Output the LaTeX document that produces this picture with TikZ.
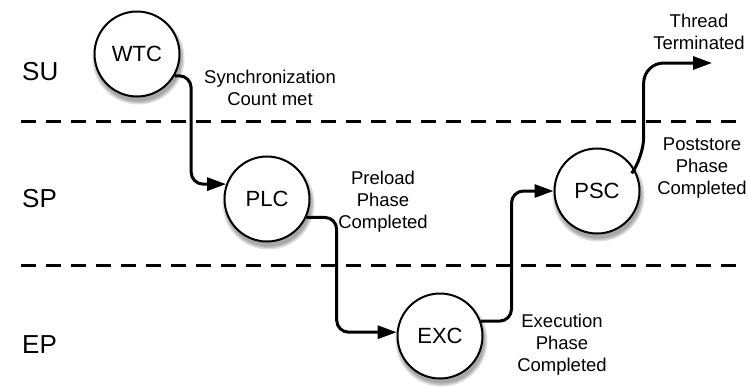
\documentclass[tikz,border=0pt]{standalone}
\usepackage{fontspec}
\setmainfont{Liberation Sans}
\usetikzlibrary{arrows.meta,automata,backgrounds,positioning}

\begin{document}
\begin{tikzpicture}[x=1pt, y=-1pt, >={Triangle[length=19pt,width=13pt]},
	every state/.style={draw, line width=2pt, fill=white, minimum size=85pt, inner sep=0pt,
		font=\fontsize{22}{26}\selectfont},
	flow/.style={->, line width=3pt, rounded corners=12pt},
	cond/.style={align=center, font=\fontsize{18.5}{22}\selectfont},
	lane/.style={anchor=west, inner sep=0pt, font=\fontsize{26}{30}\selectfont},
	sep/.style={line width=3pt, dash pattern=on 15pt off 10pt}]
		\useasboundingbox (0,0) rectangle (749,386);
		
		% Lanes
		\draw[sep] (21,121) -- (745,121);
		\draw[sep] (21,265) -- (745,265);
		\node[lane] (SU) at (22,72) {SU};
		\node[lane] (SP) at (22,199) {SP};
		\node[lane] (EP) at (22,345) {EP};
		
		% Define states
		\node[state] (WTC) at (137,54) {WTC};
		\node[state] (PLC) at (267,199) {PLC};
		\node[state] (EXC) at (440,336) {EXC};
		\node[state] (PSC) at (597,191) {PSC};
		\coordinate (exit) at (712,63);
		
		% Soft shadows
		\begin{scope}[on background layer]
			\foreach \n in {WTC,PLC,EXC,PSC}
				\foreach \r in {46,44.5,43}
					\fill[black, opacity=0.13] ([shift={(1.5,4.5)}]\n.center) circle (\r pt);
		\end{scope}
		
		% Conditions
		\node[cond] (sync) at (270,88) {Synchronization\\Count met};
		\node[cond] (preload) at (383,202) {Preload\\Phase\\Completed};
		\node[cond] (execution) at (562,345) {Execution\\Phase\\Completed};
		\node[cond] (poststore) at (702,168) {Poststore\\Phase\\Completed};
		\node[cond] (thread) at (699,32) {Thread\\Terminated};
		
		% Define transitions
		\draw[flow] (WTC.-30) -| ([xshift=-35pt]PLC.160) -- (PLC.160);
		\draw[flow] (PLC.-25) -| ([xshift=-60pt]EXC.175) -- (EXC.175);
		\draw[flow] (EXC.20) -| ([xshift=-42pt]PSC.west) -- (PSC.west);
		\draw[flow, rounded corners=20pt] (PSC.30) -- ++(9,-12) |- (exit);
	\end{tikzpicture}
\end{document}
